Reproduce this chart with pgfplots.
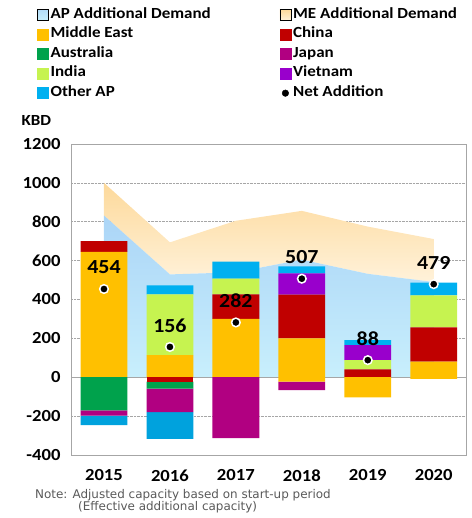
\documentclass[border=0pt]{standalone}
\usepackage{pgfplots}
\pgfplotsset{compat=1.18}
\usepackage{fontspec}
\setmainfont{Carlito}[FakeStretch=1.1]
\newfontfamily\notefont{DejaVu Sans}
\definecolor{cME}{HTML}{FFC000}
\definecolor{cCN}{HTML}{C00000}
\definecolor{cAU}{HTML}{00A24C}
\definecolor{cJP}{HTML}{B10081}
\definecolor{cIN}{HTML}{C6F350}
\definecolor{cVN}{HTML}{9900CC}
\definecolor{cOT}{HTML}{00B0F0}
\definecolor{apTop}{HTML}{ABD5F7}
\definecolor{apBot}{HTML}{C8EFFC}
\definecolor{meTop}{HTML}{FDD99B}
\definecolor{meBot}{HTML}{FFF2DA}
\definecolor{gridc}{HTML}{A6A6A6}
\definecolor{notec}{HTML}{595959}
\pgfplotsset{
  base/.style={at={(71bp,63bp)}, anchor=south west,
    scale only axis, width=395.7bp, height=311bp,
    xmin=-0.5, xmax=5.5, ymin=-400, ymax=1200},
  barax/.style={base, hide axis, ybar stacked, bar width=0.71},
}
\newcommand{\sq}[1]{\addlegendimage{legend image code/.code={\fill[#1] (0bp,-5.5bp) rectangle (11bp,5.5bp);}}}
\begin{document}
\begin{tikzpicture}
\useasboundingbox (0bp,0bp) rectangle (472bp,518bp);
% ---------- background axis: frame, grid, demand areas
\begin{axis}[base, stack plots=y,
  xtick={0,1,2,3,4,5},
  xticklabels={2015,2016,2017,2018,2019,2020},
  ytick={-400,-200,...,1200},
  major tick length=0pt,
  axis line style={draw=gridc, line width=0.8bp},
  ymajorgrids, grid style={densely dotted, gridc, line width=0.7bp},
  /pgf/number format/assume math mode=true,
  /pgf/number format/1000 sep={},
  yticklabel style={font=\bfseries\fontsize{17}{18}\selectfont, xshift=-7bp},
  xticklabel style={font=\bfseries\fontsize{17}{18}\selectfont, yshift=-11bp},
]
\addplot[draw=none, top color=apTop, bottom color=apBot]
  coordinates {(0,832) (1,529) (2,540) (3,605) (4,532) (5,490)} \closedcycle;
\addplot[draw=none, top color=meTop, bottom color=meBot]
  coordinates {(0,168) (1,165) (2,265) (3,251) (4,243) (5,221)} \closedcycle;
\end{axis}
% ---------- positive contributions
\begin{axis}[barax]
\addplot[fill=cME, draw=none] coordinates {(0,645) (1,114) (2,300) (3,200) (4,0) (5,80)};
\addplot[fill=cCN, draw=none] coordinates {(0,55) (1,0) (2,126) (3,225) (4,40) (5,176)};
\addplot[fill=cIN, draw=none] coordinates {(0,0) (1,312) (2,82) (3,0) (4,48) (5,165)};
\addplot[fill=cVN, draw=none] coordinates {(0,0) (1,0) (2,0) (3,110) (4,77) (5,0)};
\addplot[fill=cOT, draw=none] coordinates {(0,0) (1,47) (2,87) (3,36) (4,26) (5,66)};
\end{axis}
% ---------- negative contributions
\begin{axis}[barax]
\addplot[fill=cME, draw=none] coordinates {(0,0) (1,0) (2,0) (3,-22) (4,-104) (5,-8)};
\addplot[fill=cCN, draw=none] coordinates {(0,0) (1,-22) (2,0) (3,0) (4,0) (5,0)};
\addplot[fill=cAU, draw=none] coordinates {(0,-170) (1,-36) (2,0) (3,0) (4,0) (5,0)};
\addplot[fill=cJP, draw=none] coordinates {(0,-28) (1,-121) (2,-313) (3,-44) (4,0) (5,0)};
\addplot[fill=cOT!92!black, draw=none] coordinates {(0,-48) (1,-138) (2,0) (3,0) (4,0) (5,0)};
\draw[gridc, line width=0.9bp] (axis cs:-0.5,0) -- (axis cs:5.5,0);
\end{axis}
% ---------- net addition and legend
\begin{axis}[base, hide axis,
  legend columns=2,
  legend style={draw=none, fill=none, at={(-0.086,1.4462)}, anchor=north west,
    inner sep=0pt, font=\bfseries\fontsize{15.5}{17}\selectfont,
    cells={anchor=west},
    nodes={inner xsep=2bp, inner ysep=2bp, text height=11bp, text depth=4.5bp},
    /tikz/every even column/.append style={column sep=67bp}},
]
\sq{top color=apTop!70!apBot, bottom color=apBot}
\addlegendentry{AP Additional Demand}
\sq{top color=meTop, bottom color=meBot}
\addlegendentry{ME Additional Demand}
\sq{cME}\addlegendentry{Middle East}
\sq{cCN}\addlegendentry{China}
\sq{cAU}\addlegendentry{Australia}
\sq{cJP}\addlegendentry{Japan}
\sq{cIN}\addlegendentry{India}
\sq{cVN}\addlegendentry{Vietnam}
\sq{cOT}\addlegendentry{Other AP}
\addplot[only marks, mark=*, mark size=4.3bp,
  mark options={fill=black, draw=white, line width=1.5bp},
  point meta=explicit symbolic,
  nodes near coords,
  every node near coord/.append style={anchor=center, yshift=21.5bp, text=black,
     font=\bfseries\fontsize{20}{22}\selectfont},
  legend image code/.code={\fill[black] (5.5bp,0bp) circle (3.3bp);}]
  coordinates {(0,454) [454] (1,156) [156] (2,282) [282] (3,507) [507] (4,88) [88] (5,479) [479]};
\addlegendentry{Net Addition}
\end{axis}
\node[anchor=west, font=\bfseries\fontsize{15.5}{16}\selectfont] at (18bp,398bp) {KBD};
\node[anchor=west, text=notec, font=\notefont\fontsize{12}{13}\selectfont, inner sep=0pt] at (35bp,23bp) {Note: Adjusted capacity based on start-up period};
\node[anchor=west, text=notec, font=\notefont\fontsize{12}{13}\selectfont, inner sep=0pt] at (78bp,11bp) {(Effective additional capacity)};
\end{tikzpicture}
\end{document}
